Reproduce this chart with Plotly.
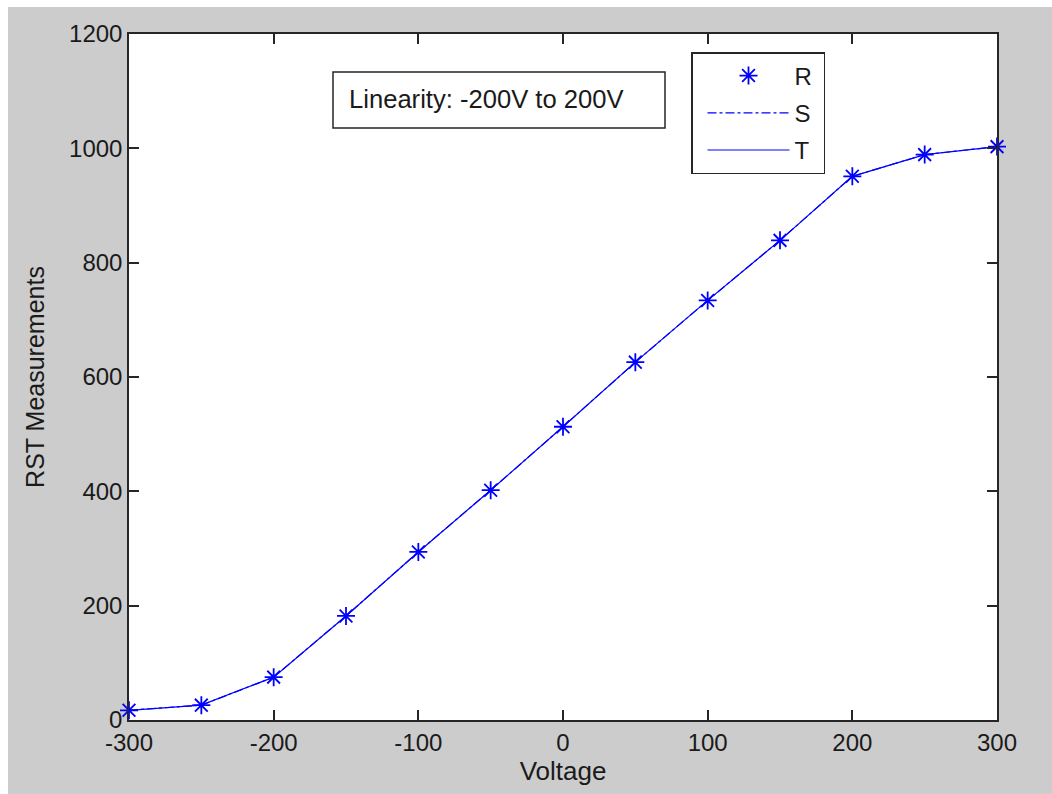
import plotly.graph_objects as go

voltage = [-300, -250, -200, -150, -100, -50, 0, 50, 100, 150, 200, 250, 300]
r_vals = [17, 26, 75, 182, 294, 402, 513, 626, 734, 839, 951, 989, 1003]
s_vals = [17, 26, 75, 182, 294, 402, 513, 626, 734, 839, 951, 989, 1003]
t_vals = [17, 26, 75, 182, 294, 402, 513, 626, 734, 839, 951, 989, 1003]
x_ticks = [-300, -200, -100, 0, 100, 200, 300]
x_tick_labels = ["-300", "-200", "-100", "0", "100", "200", "300"]
y_ticks = [0, 200, 400, 600, 800, 1000, 1200]
y_tick_labels = ["0", "200", "400", "600", "800", "1000", "1200"]

BLUE = "#0000ff"
FONT = "Liberation Sans, Arial, sans-serif"
TXT = "#1a1a1a"
W, H = 1052, 794
L, R, T, B = 129, 55, 34, 74
pw, ph = W - L - R, H - T - B

def px_x(p):
    return (p - L) / pw

def px_y(p):
    return (H - B - p) / ph

NB = "\u00a0"
fig = go.Figure()
fig.add_trace(go.Scatter(x=voltage, y=r_vals, mode="markers", name="R" + NB,
                         legendgroup="r",
                         marker=dict(symbol="asterisk-open", size=15, color=BLUE,
                                     line=dict(color=BLUE, width=1.8)),
                         cliponaxis=False))
fig.add_trace(go.Scatter(x=voltage, y=s_vals, mode="lines", name="S" + NB,
                         legendgroup="s",
                         line=dict(color=BLUE, width=1.2, dash="dashdot"),
                         cliponaxis=False))
fig.add_trace(go.Scatter(x=voltage, y=t_vals, mode="lines", name="T" + NB,
                         legendgroup="t",
                         line=dict(color=BLUE, width=1.2),
                         cliponaxis=False))

axis_common = dict(showline=True, linecolor="#262626", linewidth=1.5, mirror="ticks",
                   ticks="inside", ticklen=10, tickwidth=1.5, tickcolor="#262626",
                   showgrid=False, zeroline=False,
                   tickfont=dict(family=FONT, size=24, color=TXT))

fig.update_layout(
    width=W, height=H,
    margin=dict(l=L, r=R, t=T, b=B, autoexpand=False),
    paper_bgcolor="#cccccc", plot_bgcolor="white",
    font=dict(family=FONT, size=24, color=TXT),
    xaxis=dict(range=[-300, 300], tickvals=x_ticks, ticktext=x_tick_labels, **axis_common,
               title=dict(text="Voltage", font=dict(family=FONT, size=26, color=TXT), standoff=5),
               automargin=False),
    yaxis=dict(range=[0, 1200], tickvals=y_ticks, ticktext=y_tick_labels, **axis_common,
               title=dict(text="RST Measurements", font=dict(family=FONT, size=25, color=TXT), standoff=17),
               automargin=False),
    legend=dict(x=px_x(691), y=px_y(52), xanchor="left", yanchor="top",
                bgcolor="white", bordercolor="#262626", borderwidth=1.5,
                font=dict(family=FONT, size=24, color=TXT), itemwidth=82,
                indentation=10, tracegroupgap=3,
                traceorder="grouped"),
    showlegend=True,
)

# annotation box
fig.add_shape(type="rect", xref="paper", yref="paper",
              x0=px_x(333), x1=px_x(665), y0=px_y(128), y1=px_y(72),
              line=dict(color="#262626", width=1.5), fillcolor="white", layer="above")
fig.add_annotation(xref="paper", yref="paper", x=px_x(347), y=px_y(99),
                   xanchor="left", yanchor="middle", showarrow=False,
                   text="Linearity: -200V to 200V",
                   font=dict(family=FONT, size=25.6, color=TXT))

# white edges of the screenshot
fig.add_shape(type="rect", xref="paper", yref="paper",
              x0=px_x(0), x1=px_x(W), y0=px_y(7), y1=px_y(0),
              line=dict(width=0), fillcolor="white")
fig.add_shape(type="rect", xref="paper", yref="paper",
              x0=px_x(0), x1=px_x(8), y0=px_y(H), y1=px_y(0),
              line=dict(width=0), fillcolor="white")

fig.write_html("out.html")
